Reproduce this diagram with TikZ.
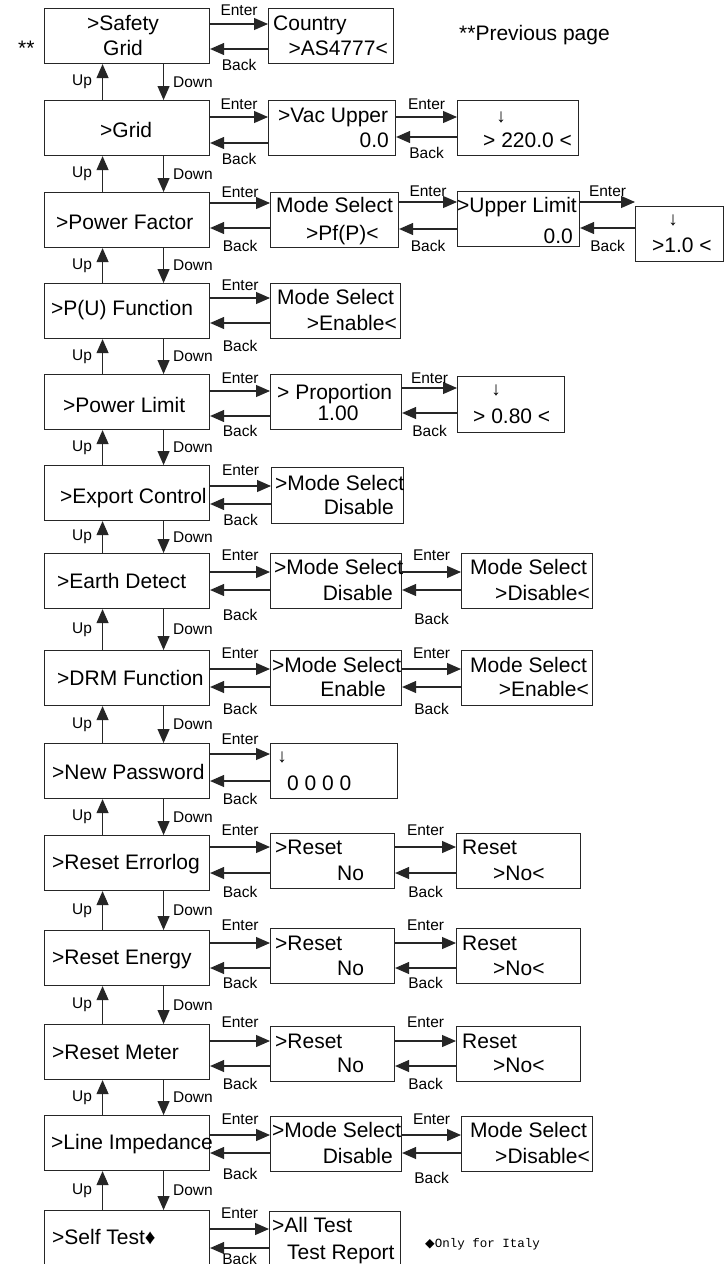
\documentclass[tikz,border=0pt]{standalone}
\usepackage{fontspec}
\setmainfont{Liberation Sans}
\newfontfamily\monofnt{Liberation Mono}
\newfontfamily\dejafnt{DejaVu Sans}
\usetikzlibrary{arrows.meta}
\newcommand\menufont{\fontsize{21}{25}\selectfont}
\newcommand\keyfont{\fontsize{15.5}{18}\selectfont}

\begin{document}
\begin{tikzpicture}[x=1pt, y=-1pt,
  >={Triangle[length=14pt, width=12pt]},
  every node/.style={inner sep=0pt},
  box/.style={draw=black!85, line width=1.1pt, anchor=north west, minimum height=55pt},
  txt/.style={font=\menufont, anchor=base west},
  rtxt/.style={font=\menufont, anchor=base east},
  dn/.style={font=\fontsize{19}{22}\selectfont},
  go/.style={->, draw=black!85, line width=1.1pt},
  key/.style={font=\keyfont},
  ent/.style={key, midway, above=#1}, ent/.default=8pt,
  bck/.style={key, midway, below=#1}, bck/.default=9.5pt]
  \path[use as bounding box, fill=white] (0,0) rectangle (726,1264);

  % main menu column
  \foreach \n/\t in {safety/8, grid/100, pf/192, pu/283, plim/374, exp/465, earth/553,
                     drm/650, pwd/743, rerr/835, reng/930, rmet/1024, limp/1115, self/1210}
    \node[box, minimum width=165pt] (\n) at (44,\t) {};
  \foreach \a/\b in {safety/grid, grid/pf, pf/pu, pu/plim, plim/exp, exp/earth, earth/drm,
                     drm/pwd, pwd/rerr, rerr/reng, reng/rmet, rmet/limp, limp/self} {
    \draw[go] ([xshift=-24.5pt]\b.north) -- ([xshift=-24.5pt]\a.south)
      node[key, midway, left=10pt] (up\b) {Up};
    \draw[go] ([xshift=36.5pt]\a.south) -- ([xshift=36.5pt]\b.north)
      node[key, midway, right=9pt] (dn\b) {Down};
  }

  % safety grid
  \node[txt] (safetyA) at (87,30) {>Safety};
  \node[txt] (safetyB) at (103,55) {Grid};
  \node[txt] (stars) at (18,55) {**};
  \node[txt] (prev) at (459,40) {**Previous page};
  \node[box, minimum width=125pt] (cty) at (268,8) {};
  \node[txt] (ctyA) at (273,30) {Country};
  \node[rtxt] (ctyB) at (388,55) {>AS4777<};
  \draw[go] (safety.east |- 0,24) -- (cty.west |- 0,24) node[ent=7.5pt] (e0) {Enter};
  \draw[go] (cty.west |- 0,49) -- (safety.east |- 0,49) node[bck] (b0) {Back};

  % grid
  \node[txt] (gridA) at (100,137) {>Grid};
  \node[box, minimum width=127pt] (vac) at (268,100) {};
  \node[txt] (vacA) at (278,122) {>Vac Upper};
  \node[rtxt] (vacB) at (389,147) {0.0};
  \node[box, minimum width=121pt] (vacv) at (457,100) {};
  \node[dn] (vacvA) at (501,117) {↓};
  \node[txt] (vacvB) at (483,147) {> 220.0 <};
  \draw[go] (grid.east |- 0,117) -- (vac.west |- 0,117) node[ent=6.5pt] (e1a) {Enter};
  \draw[go] (vac.west |- 0,143) -- (grid.east |- 0,143) node[bck] (b1a) {Back};
  \draw[go] (vac.east |- 0,117) -- (vacv.west |- 0,117) node[ent=6.5pt] (e1b) {Enter};
  \draw[go] (vacv.west |- 0,137) -- (vac.east |- 0,137) node[bck] (b1b) {Back};

  % power factor
  \node[txt] (pfA) at (56,229) {>Power Factor};
  \node[box, minimum width=128pt] (pfm) at (270,192) {};
  \node[txt] (pfmA) at (276,212) {Mode Select};
  \node[txt] (pfmB) at (306,240) {>Pf(P)<};
  \node[box, minimum width=122pt] (pful) at (457,191) {};
  \node[txt] (pfulA) at (457,212) {>Upper Limit};
  \node[rtxt] (pfulB) at (573,243) {0.0};
  \node[box, minimum width=88pt] (pfv) at (635,206) {};
  \node[dn] (pfvA) at (673,220) {↓};
  \node[txt] (pfvB) at (652,252) {>1.0 <};
  \draw[go] (pf.east |- 0,203) -- (pfm.west |- 0,203) node[ent=4.5pt] (e2a) {Enter};
  \draw[go] (pfm.west |- 0,228) -- (pf.east |- 0,228) node[bck=11.5pt] (b2a) {Back};
  \draw[go] (pfm.east |- 0,202) -- (pful.west |- 0,202) node[ent=4.5pt] (e2b) {Enter};
  \draw[go] (pful.west |- 0,229) -- (pfm.east |- 0,229) node[bck=10.5pt] (b2b) {Back};
  \draw[go] (pful.east |- 0,202) -- (pfv.west |- 0,202) node[ent=4.5pt] (e2c) {Enter};
  \draw[go] (pfv.west |- 0,228) -- (pful.east |- 0,228) node[bck=11.5pt] (b2c) {Back};

  % P(U) function
  \node[txt] (puA) at (51,315) {>P(U) Function};
  \node[box, minimum width=130pt] (pum) at (270,283) {};
  \node[txt] (pumA) at (277,304) {Mode Select};
  \node[rtxt] (pumB) at (397,330) {>Enable<};
  \draw[go] (pu.east |- 0,298) -- (pum.west |- 0,298) node[ent=6.5pt] (e3) {Enter};
  \draw[go] (pum.west |- 0,323) -- (pu.east |- 0,323) node[bck=16.5pt] (b3) {Back};

  % power limit
  \node[txt] (plimA) at (63,412) {>Power Limit};
  \node[box, minimum width=131pt] (plimp) at (270,374) {};
  \node[txt] (plimpA) at (277,399) {> Proportion};
  \node[font=\menufont, anchor=base] (plimpB) at (338,420) {1.00};
  \node[box, minimum width=107pt, minimum height=56pt] (plimv) at (457,376) {};
  \node[dn] (plimvA) at (496,390) {↓};
  \node[txt] (plimvB) at (473,423) {> 0.80 <};
  \draw[go] (plim.east |- 0,391) -- (plimp.west |- 0,391) node[ent=6.5pt] (e4a) {Enter};
  \draw[go] (plimp.west |- 0,416) -- (plim.east |- 0,416) node[bck=8.5pt] (b4a) {Back};
  \draw[go] (plimp.east |- 0,388) -- (plimv.west |- 0,388) node[ent=3.5pt] (e4b) {Enter};
  \draw[go] (plimv.west |- 0,413) -- (plimp.east |- 0,413) node[bck=11.5pt] (b4b) {Back};

  % export control
  \node[txt] (expA) at (60,503) {>Export Control};
  \node[box, minimum width=132pt, minimum height=56pt] (expm) at (271,467) {};
  \node[txt] (expmA) at (275,490) {>Mode Select};
  \node[rtxt] (expmB) at (394,514) {Disable};
  \draw[go] (exp.east |- 0,486) -- (expm.west |- 0,486) node[ent=9.5pt] (e5) {Enter};
  \draw[go] (expm.west |- 0,504) -- (exp.east |- 0,504) node[bck] (b5) {Back};

  % earth detect
  \node[txt] (earthA) at (57,588) {>Earth Detect};
  \node[box, minimum width=131pt] (earthm) at (270,553) {};
  \node[txt] (earthmA) at (274,574) {>Mode Select};
  \node[rtxt] (earthmB) at (393,600) {Disable};
  \node[box, minimum width=131pt] (earthv) at (461,553) {};
  \node[txt] (earthvA) at (470,574) {Mode Select};
  \node[rtxt] (earthvB) at (590,600) {>Disable<};
  \draw[go] (earth.east |- 0,572) -- (earthm.west |- 0,572) node[ent=10.5pt] (e6a) {Enter};
  \draw[go] (earthm.west |- 0,590) -- (earth.east |- 0,590) node[bck=18.5pt] (b6a) {Back};
  \draw[go] (earthm.east |- 0,572) -- (earthv.west |- 0,572) node[ent=10.5pt] (e6b) {Enter};
  \draw[go] (earthv.west |- 0,590) -- (earthm.east |- 0,590) node[bck=22.5pt] (b6b) {Back};

  % DRM function
  \node[txt] (drmA) at (57,685) {>DRM Function};
  \node[box, minimum width=131pt] (drmm) at (270,650) {};
  \node[txt] (drmmA) at (272,672) {>Mode Select};
  \node[rtxt] (drmmB) at (386,696) {Enable};
  \node[box, minimum width=131pt] (drmv) at (461,650) {};
  \node[txt] (drmvA) at (470,672) {Mode Select};
  \node[rtxt] (drmvB) at (589,696) {>Enable<};
  \draw[go] (drm.east |- 0,669) -- (drmm.west |- 0,669) node[ent=9.5pt] (e7a) {Enter};
  \draw[go] (drmm.west |- 0,687) -- (drm.east |- 0,687) node[bck=15.5pt] (b7a) {Back};
  \draw[go] (drmm.east |- 0,669) -- (drmv.west |- 0,669) node[ent=9.5pt] (e7b) {Enter};
  \draw[go] (drmv.west |- 0,687) -- (drmm.east |- 0,687) node[bck=15.5pt] (b7b) {Back};

  % new password
  \node[txt] (pwdA) at (52,779) {>New Password};
  \node[box, minimum width=127pt] (pwdv) at (270,743) {};
  \node[dn] (pwdvA) at (282,757) {↓};
  \node[txt] (pwdvB) at (287,790) {0 0 0 0};
  \draw[go] (pwd.east |- 0,754) -- (pwdv.west |- 0,754) node[ent=8.5pt] (e8) {Enter};
  \draw[go] (pwdv.west |- 0,781) -- (pwd.east |- 0,781) node[bck=11.5pt] (b8) {Back};

  % reset errorlog
  \node[txt] (rerrA) at (52,869) {>Reset Errorlog};
  \node[box, minimum width=124pt] (rerrm) at (270,833) {};
  \node[txt] (rerrmA) at (275,854) {>Reset};
  \node[txt] (rerrmB) at (337,880) {No};
  \node[box, minimum width=124pt] (rerrv) at (456,833) {};
  \node[txt] (rerrvA) at (462,854) {Reset};
  \node[txt] (rerrvB) at (493,880) {>No<};
  \draw[go] (rerr.east |- 0,847) -- (rerrm.west |- 0,847) node[ent=10.5pt] (e9a) {Enter};
  \draw[go] (rerrm.west |- 0,873) -- (rerr.east |- 0,873) node[bck=12.5pt] (b9a) {Back};
  \draw[go] (rerrm.east |- 0,847) -- (rerrv.west |- 0,847) node[ent=10.5pt] (e9b) {Enter};
  \draw[go] (rerrv.west |- 0,873) -- (rerrm.east |- 0,873) node[bck=12.5pt] (b9b) {Back};

  % reset energy
  \node[txt] (rengA) at (52,964) {>Reset Energy};
  \node[box, minimum width=124pt] (rengm) at (270,928) {};
  \node[txt] (rengmA) at (275,950) {>Reset};
  \node[txt] (rengmB) at (337,975) {No};
  \node[box, minimum width=124pt] (rengv) at (456,928) {};
  \node[txt] (rengvA) at (462,950) {Reset};
  \node[txt] (rengvB) at (493,975) {>No<};
  \draw[go] (reng.east |- 0,943) -- (rengm.west |- 0,943) node[ent=11.5pt] (e10a) {Enter};
  \draw[go] (rengm.west |- 0,968) -- (reng.east |- 0,968) node[bck=8.5pt] (b10a) {Back};
  \draw[go] (rengm.east |- 0,943) -- (rengv.west |- 0,943) node[ent=11.5pt] (e10b) {Enter};
  \draw[go] (rengv.west |- 0,968) -- (rengm.east |- 0,968) node[bck=8.5pt] (b10b) {Back};

  % reset meter
  \node[txt] (rmetA) at (52,1059) {>Reset Meter};
  \node[box, minimum width=124pt] (rmetm) at (270,1026) {};
  \node[txt] (rmetmA) at (275,1048) {>Reset};
  \node[txt] (rmetmB) at (337,1072) {No};
  \node[box, minimum width=124pt] (rmetv) at (456,1026) {};
  \node[txt] (rmetvA) at (462,1048) {Reset};
  \node[txt] (rmetvB) at (493,1072) {>No<};
  \draw[go] (rmet.east |- 0,1041) -- (rmetm.west |- 0,1041) node[ent=12.5pt] (e11a) {Enter};
  \draw[go] (rmetm.west |- 0,1066) -- (rmet.east |- 0,1066) node[bck=11.5pt] (b11a) {Back};
  \draw[go] (rmetm.east |- 0,1041) -- (rmetv.west |- 0,1041) node[ent=12.5pt] (e11b) {Enter};
  \draw[go] (rmetv.west |- 0,1066) -- (rmetm.east |- 0,1066) node[bck=11.5pt] (b11b) {Back};

  % line impedance
  \node[txt] (limpA) at (51,1149) {>Line Impedance};
  \node[box, minimum width=131pt] (limpm) at (270,1116) {};
  \node[txt] (limpmA) at (272,1137) {>Mode Select};
  \node[rtxt] (limpmB) at (393,1163) {Disable};
  \node[box, minimum width=131pt] (limpv) at (461,1116) {};
  \node[txt] (limpvA) at (470,1137) {Mode Select};
  \node[rtxt] (limpvB) at (590,1163) {>Disable<};
  \draw[go] (limp.east |- 0,1135) -- (limpm.west |- 0,1135) node[ent=9.5pt] (e12a) {Enter};
  \draw[go] (limpm.west |- 0,1153) -- (limp.east |- 0,1153) node[bck=14.5pt] (b12a) {Back};
  \draw[go] (limpm.east |- 0,1135) -- (limpv.west |- 0,1135) node[ent=9.5pt] (e12b) {Enter};
  \draw[go] (limpv.west |- 0,1153) -- (limpm.east |- 0,1153) node[bck=18.5pt] (b12b) {Back};

  % self test
  \node[txt] (selfA) at (52,1244) {>Self Test♦};
  \node[box, minimum width=131pt] (selfm) at (269,1211) {};
  \node[txt] (selfmA) at (272,1232) {>All Test};
  \node[txt] (selfmB) at (287,1259) {Test Report};
  \draw[go] (self.east |- 0,1229) -- (selfm.west |- 0,1229) node[ent=9.5pt] (e13) {Enter};
  \draw[go] (selfm.west |- 0,1248) -- (self.east |- 0,1248) node[bck=4.5pt] (b13) {Back};
  \node[font=\monofnt\fontsize{12.5}{15}\selectfont, anchor=base west] (italy)
    at (425,1247) {{\dejafnt ◆}Only for Italy};
\end{tikzpicture}
\end{document}
